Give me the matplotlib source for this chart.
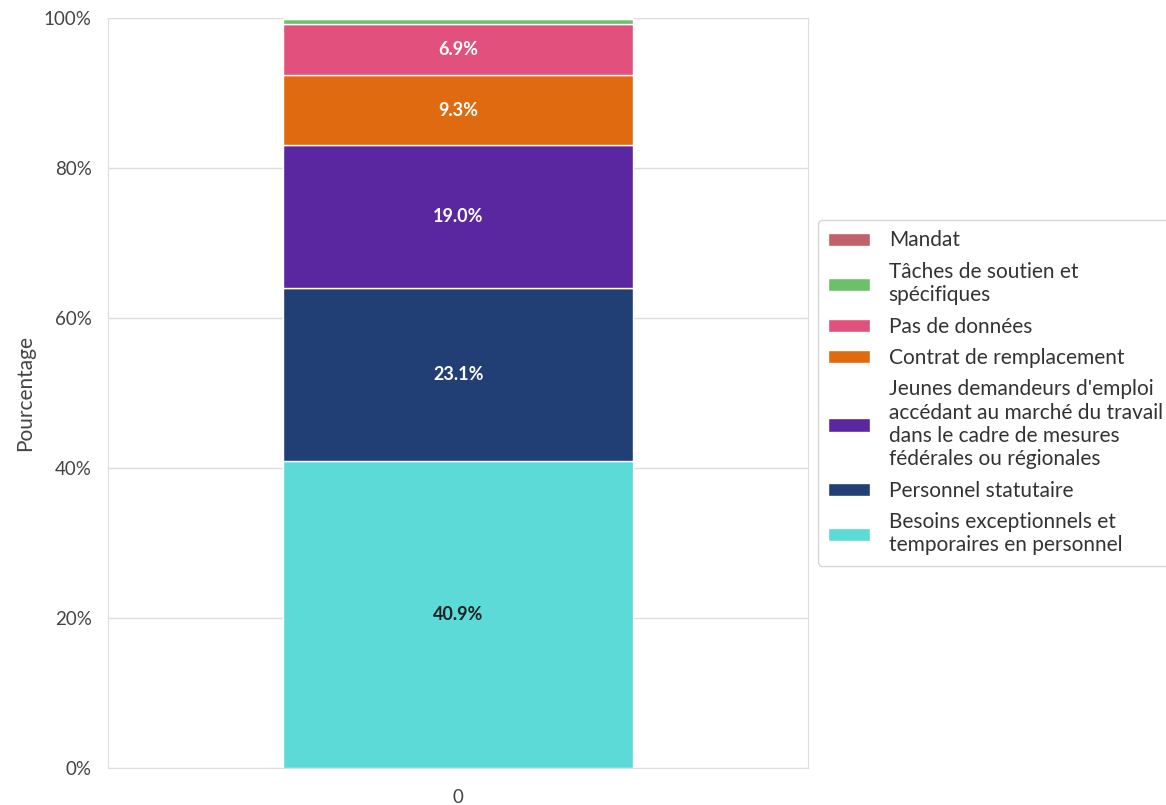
import numpy as np
import matplotlib
matplotlib.use("Agg")
from matplotlib import pyplot as plt
from matplotlib.ticker import PercentFormatter

# data (bottom to top)
categories = ['Besoins exceptionnels et\ntemporaires en personnel',
              'Personnel statutaire',
              "Jeunes demandeurs d'emploi\naccédant au marché du travail\ndans le cadre de mesures\nfédérales ou régionales",
              'Contrat de remplacement',
              'Pas de données',
              'Tâches de soutien et\nspécifiques',
              'Mandat']
values = [40.9, 23.1, 19.0, 9.3, 6.9, 0.6, 0.2]
colors = ['#5cdad7', '#223f75', '#5a27a1', '#e06a10', '#e2517e', '#6cc06a', '#c1616c']
label_colors = ['#222222', 'white', 'white', 'white', 'white', None, None]

plt.rcParams['font.family'] = ['Lato', 'DejaVu Sans']

fig, ax = plt.subplots(figsize=(11.66, 8.05), dpi=100)
fig.subplots_adjust(left=0.093, right=0.693, top=0.978, bottom=0.046)

bottom = 0
for cat, val, col, lc in zip(categories, values, colors, label_colors):
    ax.bar([0], [val], bottom=bottom, width=0.5, color=col, label=cat,
           edgecolor='white', linewidth=1, zorder=3)
    if lc is not None:
        ax.text(0, bottom + val / 2, '{:.1f}%'.format(val), ha='center', va='center',
                color=lc, fontsize=13, fontweight='bold', zorder=4)
    bottom += val

ax.set_xlim(-0.5, 0.5)
ax.set_ylim(0, 100)
ax.set_xticks([0])
ax.set_xticklabels(['0'])
ax.set_yticks(np.arange(0, 101, 20))
ax.yaxis.set_major_formatter(PercentFormatter(decimals=0))
ax.tick_params(axis='both', labelsize=13.5, colors='#444444', length=0)
ax.tick_params(axis='y', pad=12)
ax.tick_params(axis='x', pad=15)
ax.set_ylabel('Pourcentage', fontsize=15, color='#444444', labelpad=6)
ax.grid(axis='y', color='#dddddd', linewidth=1, zorder=0)
for s in ax.spines.values():
    s.set_color('#dddddd')

h, l = ax.get_legend_handles_labels()
leg = ax.legend(h[::-1], l[::-1], loc='center left', bbox_to_anchor=(1.014, 0.5),
                borderaxespad=0, fontsize=15, frameon=True, labelcolor='#333333',
                handlelength=2.0, handleheight=0.6, borderpad=0.5, labelspacing=0.55,
                handletextpad=0.9)
leg.get_frame().set_edgecolor('#cccccc')

plt.savefig('out.png', dpi=100)
